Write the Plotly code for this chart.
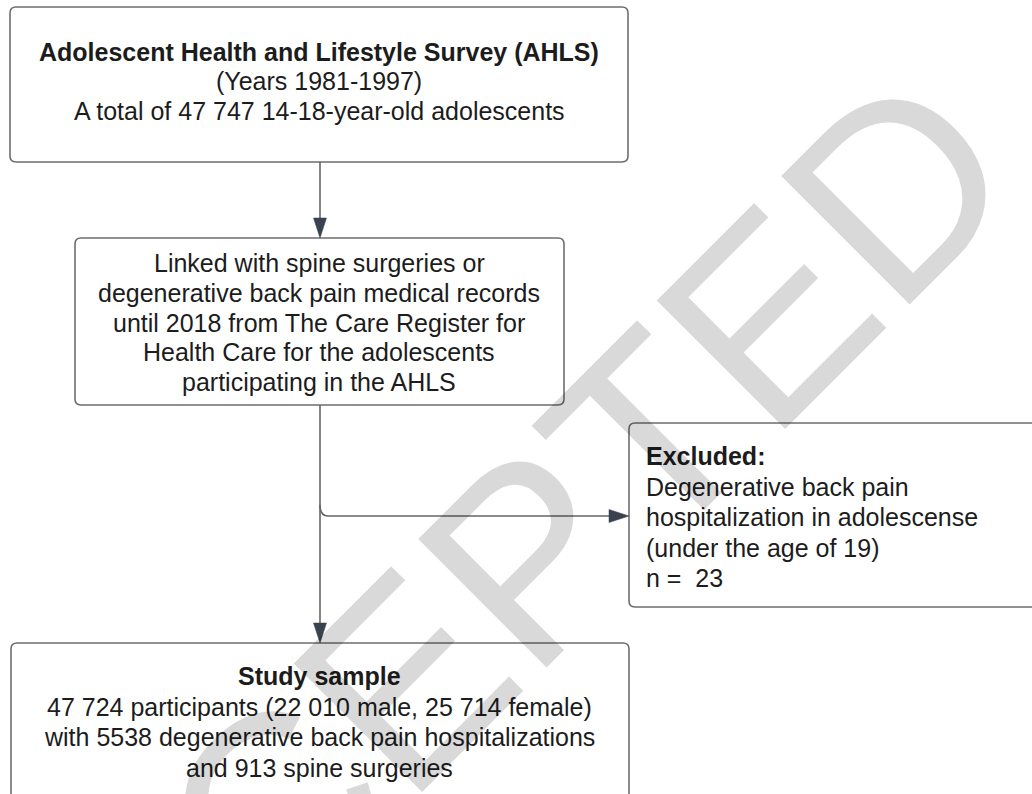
import plotly.graph_objects as go

# ---- content ----
box1_lines = ["<b>Adolescent Health and Lifestyle Survey (AHLS)</b>",
              "(Years 1981-1997)",
              "A total of 47 747 14-18-year-old adolescents"]
box2_lines = ["Linked with spine surgeries or",
              "degenerative back pain medical records",
              "until 2018 from The Care Register for",
              "Health Care for the adolescents",
              "participating in the AHLS"]
excl_lines = ["<b>Excluded:</b>",
              "Degenerative back pain",
              "hospitalization in adolescense",
              "(under the age of 19)",
              "n =  23"]
study_lines = ["<b>Study sample</b>",
               "47 724 participants (22 010 male, 25 714 female)",
               "with 5538 degenerative back pain hospitalizations",
               "and 913 spine surgeries"]
watermark = "ACCEPTED"

W, H = 1032, 794
FONT = "Liberation Sans, Arial, sans-serif"
TXT = "#1c1c1c"
BORDER = "#6e6e6e"
LINE = "#666666"
ARROW = "#3a4250"
FS = 25

fig = go.Figure()
shapes = []
annotations = []


def rrect(x0, y0, x1, y1, r=6):
    p = (f"M {x0+r},{y0} L {x1-r},{y0} Q {x1},{y0} {x1},{y0+r} "
         f"L {x1},{y1-r} Q {x1},{y1} {x1-r},{y1} L {x0+r},{y1} "
         f"Q {x0},{y1} {x0},{y1-r} L {x0},{y0+r} Q {x0},{y0} {x0+r},{y0} Z")
    shapes.append(dict(type="path", path=p, xref="x", yref="y",
                       line=dict(color=BORDER, width=1.6), fillcolor="white",
                       layer="below"))


def lines_text(lines, x, y0, step, anchor="center"):
    for i, t in enumerate(lines):
        annotations.append(dict(x=x, y=y0 + i * step, xref="x", yref="y",
                                text=t, showarrow=False, xanchor=anchor,
                                yanchor="middle",
                                font=dict(family=FONT, size=FS, color=TXT)))


def vline(x, y0, y1):
    shapes.append(dict(type="line", x0=x, x1=x, y0=y0, y1=y1, xref="x", yref="y",
                       line=dict(color=LINE, width=1.6)))


def head_down(x, y, w=13, h=20):
    shapes.append(dict(type="path", xref="x", yref="y",
                       path=f"M {x-w/2},{y-h} L {x+w/2},{y-h} L {x},{y} Z",
                       fillcolor=ARROW, line=dict(color=ARROW, width=0.5)))


def head_right(x, y, w=13, h=20):
    shapes.append(dict(type="path", xref="x", yref="y",
                       path=f"M {x-h},{y-w/2} L {x-h},{y+w/2} L {x},{y} Z",
                       fillcolor=ARROW, line=dict(color=ARROW, width=0.5)))


# boxes
rrect(10, 7, 628, 162)
rrect(75, 238, 564, 405)
rrect(629, 423, 1040, 607)
rrect(11, 643, 629, 810)

# connectors
cx = 320
vline(cx, 162, 222)
head_down(cx, 238)
vline(cx, 405, 627)
head_down(cx, 643)
shapes.append(dict(type="path", xref="x", yref="y",
                   path=f"M {cx},{505} Q {cx},{516} {cx+8},{516} L {612},{516}",
                   line=dict(color=LINE, width=1.6)))
head_right(629, 516)

# texts
lines_text(box1_lines, 319, 52, 29.3)
lines_text(box2_lines, 319, 263, 29.8)
lines_text(excl_lines, 644, 456, 30.6, anchor="left")
lines_text(study_lines, 319, 676, 30.6)

# watermark
annotations.append(dict(x=456, y=628, xref="x", yref="y", text=watermark,
                        showarrow=False, textangle=-45, xanchor="center",
                        yanchor="middle",
                        font=dict(family=FONT, size=264, color="rgba(0,0,0,0.15)")))

fig.update_layout(width=W, height=H, margin=dict(l=0, r=0, t=0, b=0),
                  paper_bgcolor="white", plot_bgcolor="white",
                  shapes=shapes, annotations=annotations, showlegend=False,
                  xaxis=dict(range=[0, W], visible=False, fixedrange=True),
                  yaxis=dict(range=[H, 0], visible=False, fixedrange=True))
fig.write_html("out.html", config={"displayModeBar": False},
               post_script="document.body.style.margin='0px';document.body.style.overflow='hidden';")
